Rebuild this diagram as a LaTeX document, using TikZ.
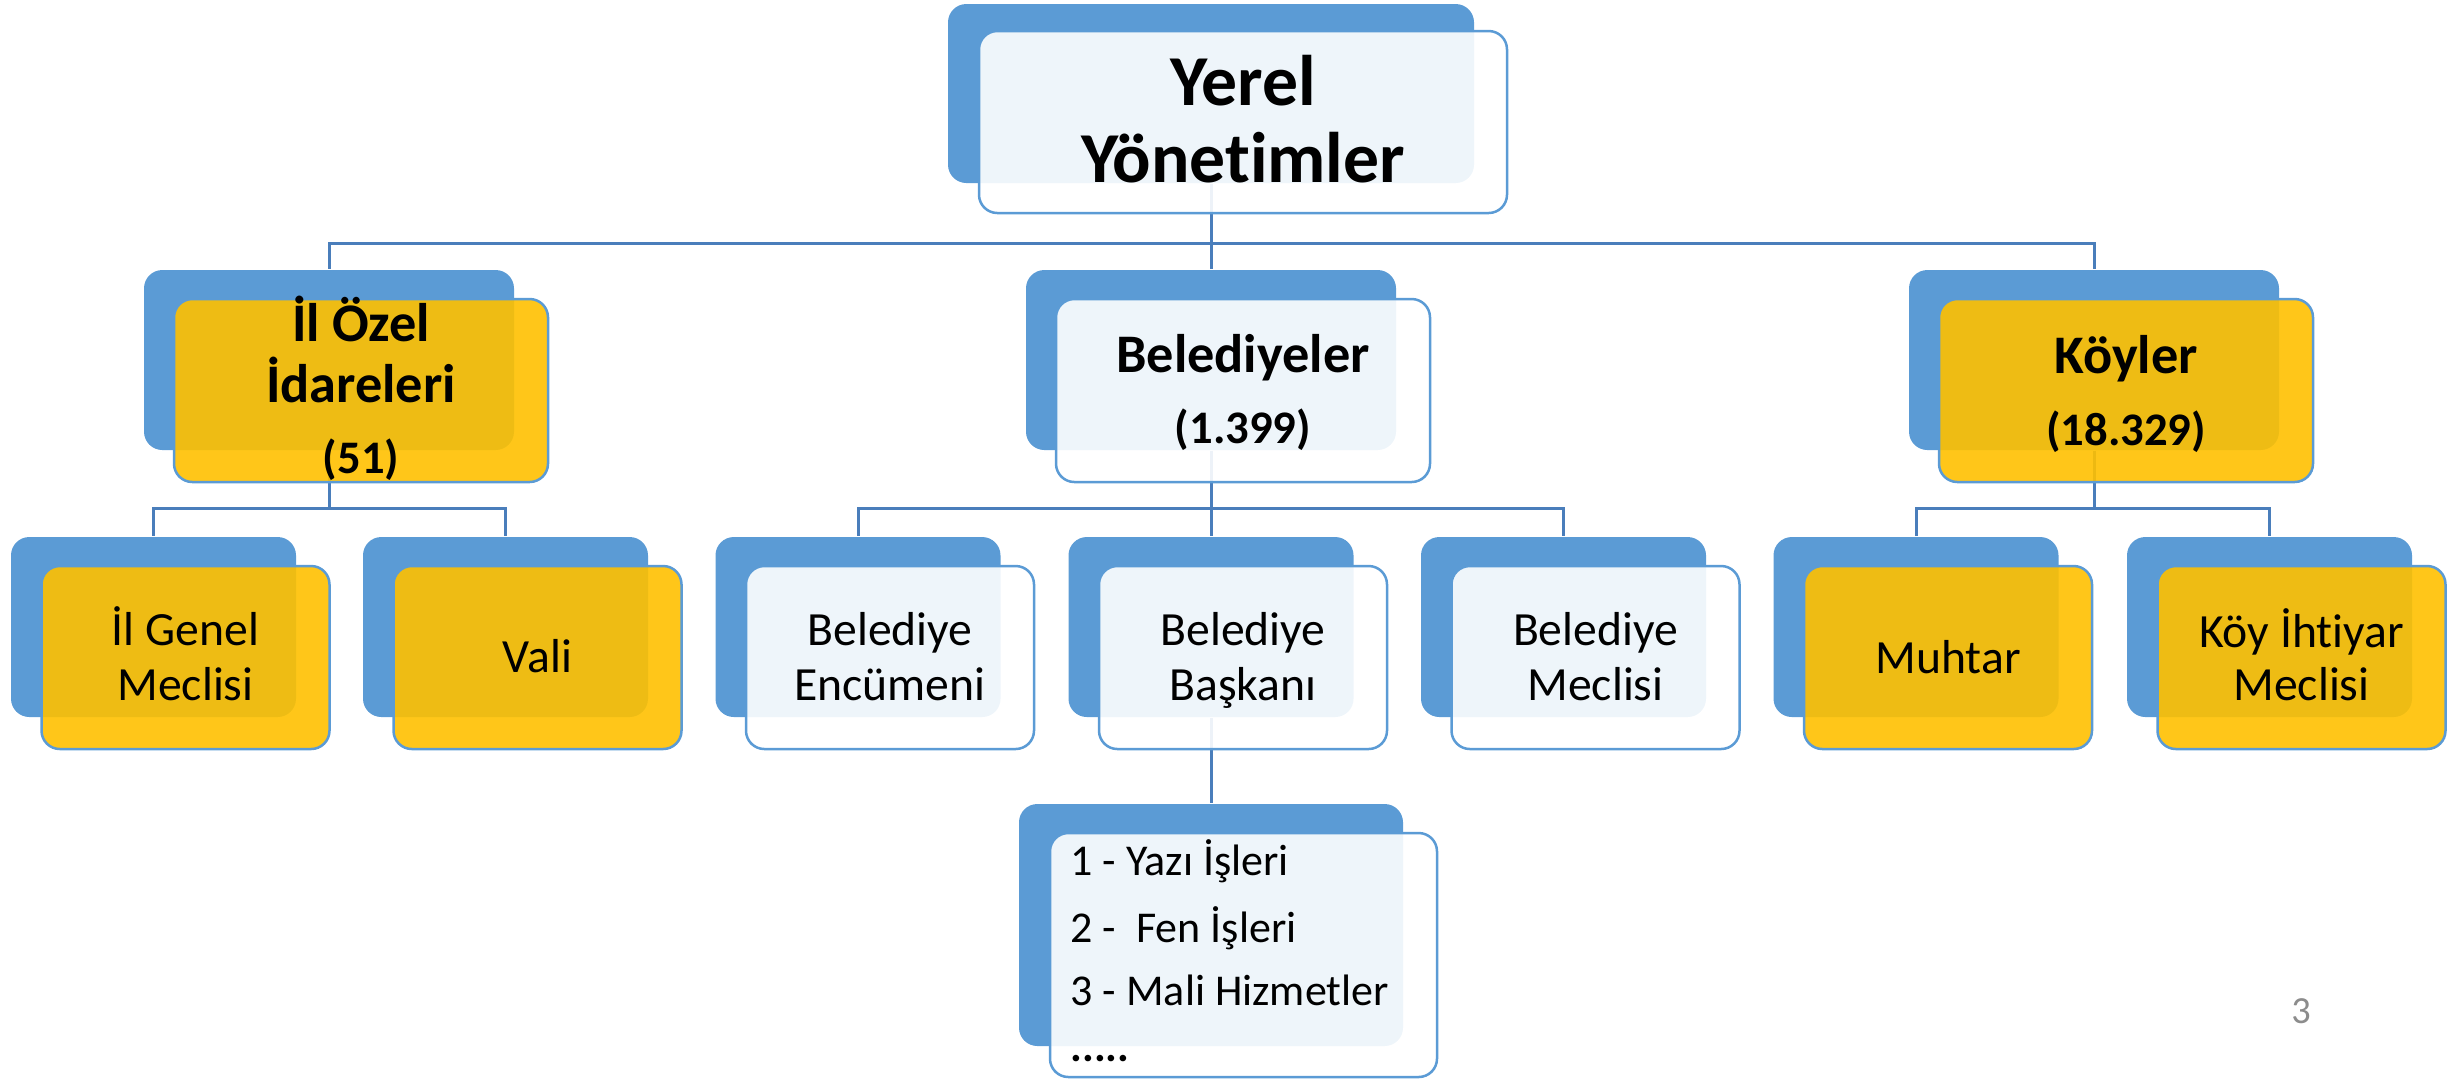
\documentclass[tikz,border=0pt]{standalone}
\usepackage{fontspec}
\setmainfont[Ligatures=NoCommon]{Carlito}
\definecolor{bblue}{HTML}{5B9BD5}
\definecolor{ylw}{HTML}{FFC000}
\definecolor{lnc}{HTML}{4A7EBB}
\definecolor{pgray}{HTML}{8C8C8C}
\newcommand\pxu{0.3pt}
\pgfdeclarelayer{bg}
\pgfsetlayers{bg,main}
\begin{document}
\begin{tikzpicture}[x=0.3pt,y=-0.3pt,
  back/.style={draw=none, fill=bblue, rounded corners=5.5pt, inner sep=0pt},
  frontw/.style={draw=bblue, line width=0.75pt, fill=white, fill opacity=0.9, draw opacity=1, rounded corners=5.5pt, inner sep=0pt},
  fronty/.style={frontw, fill=ylw},
  sz1b/.style={minimum width=526*\pxu, minimum height=179*\pxu},
  sz1f/.style={minimum width=528*\pxu, minimum height=182*\pxu},
  sz2b/.style={minimum width=370*\pxu, minimum height=180*\pxu},
  sz2f/.style={minimum width=374*\pxu, minimum height=183*\pxu},
  sz3b/.style={minimum width=285*\pxu, minimum height=180*\pxu},
  sz3f/.style={minimum width=288*\pxu, minimum height=183*\pxu},
  sz4b/.style={minimum width=384*\pxu, minimum height=242*\pxu},
  sz4f/.style={minimum width=387*\pxu, minimum height=244*\pxu},
  conn/.style={draw=lnc, line width=0.9pt},
  ta/.style={anchor=base, inner sep=0pt, font=\fontsize{21.5}{24}\selectfont\bfseries},
  tb/.style={anchor=base, inner sep=0pt, font=\fontsize{16.3}{19}\selectfont\bfseries},
  tbn/.style={anchor=base, inner sep=0pt, font=\fontsize{14}{17}\selectfont\bfseries},
  tc/.style={anchor=base, inner sep=0pt, font=\fontsize{14.3}{17}\selectfont},
  td/.style={anchor=base west, inner sep=0pt, font=\fontsize{13.2}{16}\selectfont},
  pnum/.style={anchor=base, inner sep=0pt, text=pgray, font=\fontsize{11.5}{14}\selectfont}]
\useasboundingbox (0,0) rectangle (2453,1078);

% ---- level 1
\node[back, sz1b] (topb) at (1211,93.5) {};
\node[frontw, sz1f] (top) at (1243,122) {};

% ---- level 2
\node[back, sz2b] (ilb) at (329,360) {};
\node[fronty, sz2f] (il) at (361,390.5) {};
\node[back, sz2b] (belb) at (1211,360) {};
\node[frontw, sz2f] (bel) at (1243,390.5) {};
\node[back, sz2b] (kb) at (2094,360) {};
\node[fronty, sz2f] (k) at (2126,390.5) {};

% ---- level 3
\node[back, sz3b] (igmb) at (153.5,627) {};
\node[fronty, sz3f] (igm) at (185.5,657.5) {};
\node[back, sz3b] (valib) at (505.5,627) {};
\node[fronty, sz3f] (vali) at (537.5,657.5) {};
\node[back, sz3b] (encb) at (858,627) {};
\node[frontw, sz3f] (enc) at (890,657.5) {};
\node[back, sz3b] (baskb) at (1211,627) {};
\node[frontw, sz3f] (bask) at (1243,657.5) {};
\node[back, sz3b] (bmecb) at (1563.5,627) {};
\node[frontw, sz3f] (bmec) at (1595.5,657.5) {};
\node[back, sz3b] (muhb) at (1916,627) {};
\node[fronty, sz3f] (muh) at (1948,657.5) {};
\node[back, sz3b] (kimb) at (2269.5,627) {};
\node[fronty, sz3f] (kim) at (2301.5,657.5) {};

% ---- level 4
\node[back, sz4b] (listb) at (1211,925) {};
\node[frontw, sz4f] (list) at (1243.5,955) {};

% ---- texts
\node[ta] (t-top1) at (1243,105) {Yerel};
\node[ta] (t-top2) at (1243,182) {Yönetimler};

\node[tb] (t-il1) at (361,341) {İl Özel};
\node[tb] (t-il2) at (361,402) {İdareleri};
\node[tbn] (t-il3) at (361,473) {(51)};
\node[tb] (t-bel1) at (1243,372) {Belediyeler};
\node[tbn] (t-bel2) at (1243,443) {(1.399)};
\node[tb] (t-k1) at (2126,373) {Köyler};
\node[tbn] (t-k2) at (2126,445) {(18.329)};

\node[tc] (t-igm1) at (185.5,645) {İl Genel};
\node[tc] (t-igm2) at (185.5,700) {Meclisi};
\node[tc] (t-vali) at (537.5,672) {Vali};
\node[tc] (t-enc1) at (890,645) {Belediye};
\node[tc] (t-enc2) at (890,700) {Encümeni};
\node[tc] (t-bask1) at (1243,645) {Belediye};
\node[tc] (t-bask2) at (1243,700) {Başkanı};
\node[tc] (t-bmec1) at (1595.5,645) {Belediye};
\node[tc] (t-bmec2) at (1595.5,700) {Meclisi};
\node[tc] (t-muh) at (1948,673) {Muhtar};
\node[tc] (t-kim1) at (2301.5,647) {Köy İhtiyar};
\node[tc] (t-kim2) at (2301.5,700) {Meclisi};

\node[td] (t-l1) at (1070,875) {1 - Yazı İşleri};
\node[td] (t-l2) at (1070,942) {2 - \ Fen İşleri};
\node[td] (t-l3) at (1070,1005) {3 - Mali Hizmetler};
\node[td] (t-l4) at (1070,1061) {\textbf{.....}};

\node[pnum] (pgno) at (2301,1023) {3};

% ---- connectors (behind boxes)
\begin{pgfonlayer}{bg}
\draw[conn] (topb.south) -- ++(0,60) coordinate (bus1) -| (ilb.north);
\draw[conn] (bus1) -| (kb.north);
\draw[conn] (topb.south) -- (belb.north);

\draw[conn] (ilb.south) -- ++(0,58) coordinate (bus2) -| (igmb.north);
\draw[conn] (bus2) -| (valib.north);

\draw[conn] (belb.south) -- ++(0,58) coordinate (bus3) -| (encb.north);
\draw[conn] (bus3) -| (bmecb.north);
\draw[conn] (belb.south) -- (baskb.north);

\draw[conn] (kb.south) -- ++(0,58) coordinate (bus4) -| (muhb.north);
\draw[conn] (bus4) -| (kimb.north);

\draw[conn] (baskb.south) -- (listb.north);
\end{pgfonlayer}
\end{tikzpicture}
\end{document}
